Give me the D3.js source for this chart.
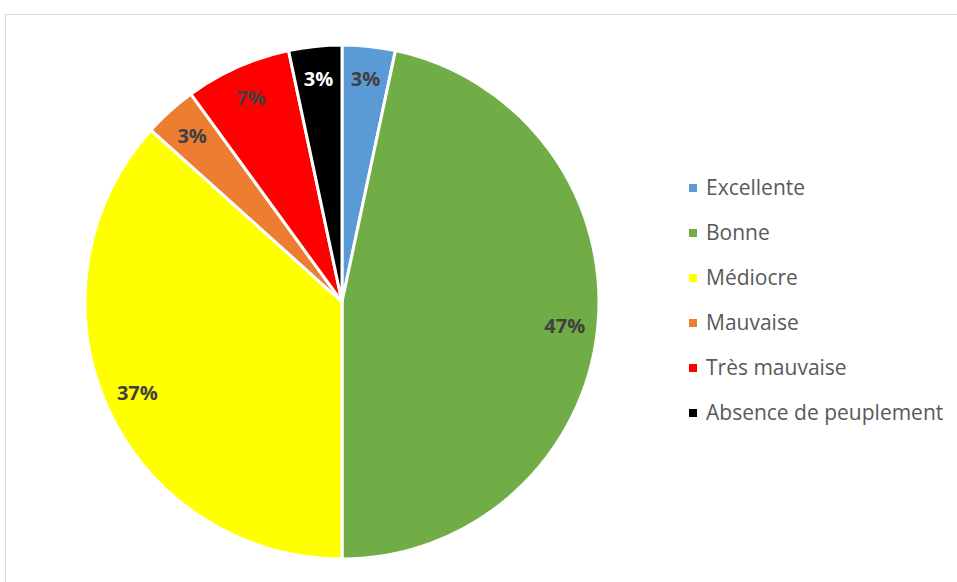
<!DOCTYPE html>
<html>
<head>
<meta charset="utf-8">
<script src="https://cdn.jsdelivr.net/npm/d3@7"></script>
<style>
body { margin: 0; background: #fff; }
svg { display: block; }
</style>
</head>
<body>
<script>
var width = 957;
var height = 582;

var categories = ['Excellente', 'Bonne', 'Médiocre', 'Mauvaise', 'Très mauvaise', 'Absence de peuplement'];
var values = [1, 14, 11, 1, 2, 1];
var colors = ['#5b9bd5', '#70ad47', '#ffff00', '#ed7d31', '#ff0000', '#000000'];
var labelColors = ['#404040', '#404040', '#404040', '#404040', '#404040', '#ffffff'];

var cx = 342, cy = 302, radius = 257;

var svg = d3.select('body').append('svg')
  .attr('width', width)
  .attr('height', height);

// chart frame
svg.append('rect')
  .attr('x', 5.5).attr('y', 14.5)
  .attr('width', 970).attr('height', 600)
  .attr('fill', '#fff')
  .attr('stroke', '#d9d9d9');

var total = d3.sum(values);
var data = categories.map(function(c, i) { return {name: c, value: values[i], i: i}; });

var pie = d3.pie().sort(null).value(function(d) { return d.value; });
var arc = d3.arc().innerRadius(0).outerRadius(radius);
var labelArc = d3.arc().innerRadius(224).outerRadius(224);

var g = svg.append('g').attr('transform', 'translate(' + cx + ',' + cy + ')');

var arcs = pie(data);

g.selectAll('path')
  .data(arcs)
  .enter().append('path')
  .attr('d', arc)
  .attr('fill', function(d) { return colors[d.data.i]; })
  .attr('stroke', '#fff')
  .attr('stroke-width', 3)
  .attr('stroke-linejoin', 'round');

g.selectAll('text')
  .data(arcs)
  .enter().append('text')
  .attr('transform', function(d) { return 'translate(' + labelArc.centroid(d) + ')'; })
  .attr('text-anchor', 'middle')
  .attr('dy', '0.36em')
  .style('font-family', '"Open Sans", sans-serif')
  .style('font-weight', 'bold')
  .style('font-size', '20px')
  .attr('fill', function(d) { return labelColors[d.data.i]; })
  .text(function(d) { return Math.round(d.data.value / total * 100) + '%'; });

// legend
var legend = svg.append('g');
var rowY = d3.scaleLinear().domain([0, categories.length - 1]).range([188, 413]);

var item = legend.selectAll('g')
  .data(data)
  .enter().append('g')
  .attr('transform', function(d) { return 'translate(689,' + rowY(d.i) + ')'; });

item.append('rect')
  .attr('x', 0).attr('y', -4)
  .attr('width', 8).attr('height', 8)
  .attr('fill', function(d) { return colors[d.i]; });

item.append('text')
  .attr('x', 17)
  .attr('dy', '0.35em')
  .style('font-family', '"Open Sans", sans-serif')
  .style('font-size', '21px')
  .attr('fill', '#595959')
  .text(function(d) { return d.name; });
</script>
</body>
</html>
